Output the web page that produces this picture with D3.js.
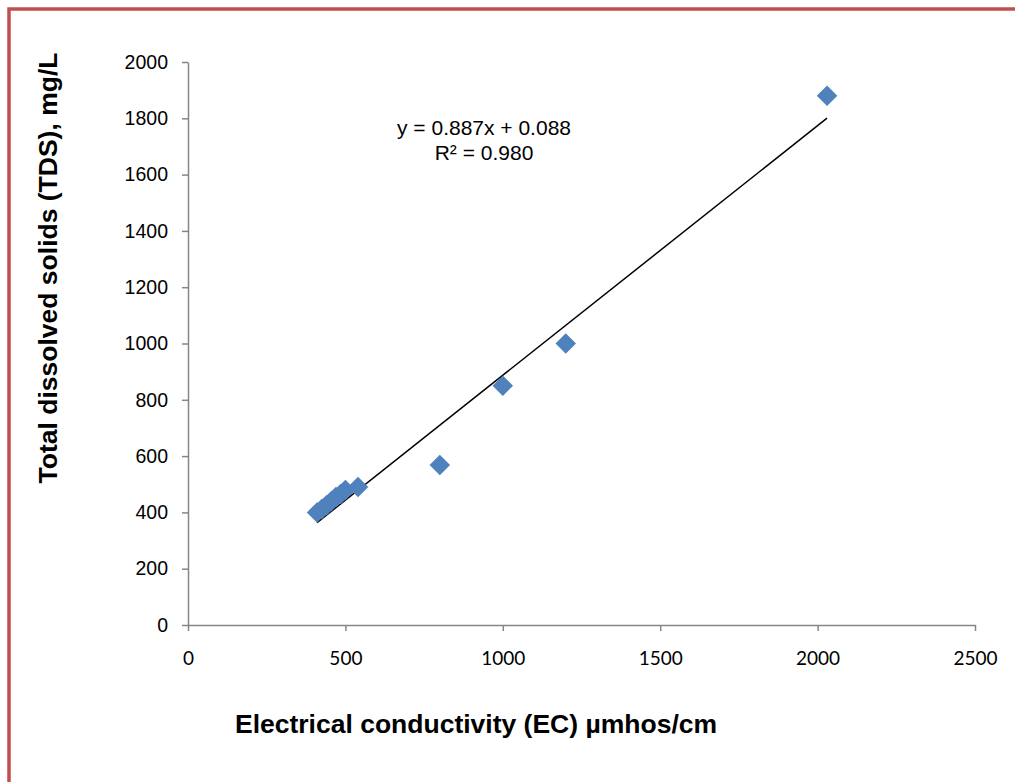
<!DOCTYPE html>
<html>
<head>
<meta charset="utf-8">
<script src="https://cdn.jsdelivr.net/npm/d3@7"></script>
<style>
  body { margin: 0; background: #fff; }
</style>
</head>
<body>
<script>
// EC (µmhos/cm) vs TDS (mg/L)
const ecValues = [410, 425, 440, 455, 470, 485, 500, 540, 800, 1000, 1200, 2030];
const tdsValues = [400, 412, 425, 440, 455, 465, 480, 490, 568, 850, 1000, 1880];
const xTicks = [0, 500, 1000, 1500, 2000, 2500];
const yTicks = [0, 200, 400, 600, 800, 1000, 1200, 1400, 1600, 1800, 2000];
const slope = 0.887;
const intercept = 0.088;
const equationLines = ["y = 0.887x + 0.088", "R² = 0.980"];

const width = 1015, height = 782;

const svg = d3.select("body").append("svg")
    .attr("width", width)
    .attr("height", height);

// red frame
svg.append("rect")
    .attr("x", 9).attr("y", 9)
    .attr("width", width + 20).attr("height", height + 20)
    .attr("fill", "none")
    .attr("stroke", "#C0504D")
    .attr("stroke-width", 3.5);

const x = d3.scaleLinear().domain([0, 2500]).range([188, 975]);
const y = d3.scaleLinear().domain([0, 2000]).range([625, 62]);

const xAxis = svg.append("g")
    .attr("transform", `translate(0,${y(0)})`)
    .call(d3.axisBottom(x).tickValues(xTicks).tickFormat(d3.format("d"))
        .tickSize(6).tickPadding(21).tickSizeOuter(0));
xAxis.selectAll("text")
    .attr("font-family", "Lato, 'Open Sans', sans-serif")
    .attr("font-size", 19)
    .attr("fill", "#000");

const yAxis = svg.append("g")
    .attr("transform", `translate(${x(0)},0)`)
    .call(d3.axisLeft(y).tickValues(yTicks).tickFormat(d3.format("d"))
        .tickSize(6).tickPadding(14).tickSizeOuter(0));
yAxis.selectAll("text")
    .attr("font-family", "'Liberation Sans', Arial, sans-serif")
    .attr("font-size", 19.5)
    .attr("fill", "#000");

svg.selectAll(".domain, .tick line")
    .attr("stroke", "#868686")
    .attr("stroke-width", 1.5);

// trendline
const xMin = d3.min(ecValues), xMax = d3.max(ecValues);
svg.append("line")
    .attr("x1", x(xMin)).attr("y1", y(slope * xMin + intercept))
    .attr("x2", x(xMax)).attr("y2", y(slope * xMax + intercept))
    .attr("stroke", "#000")
    .attr("stroke-width", 1.5);

// diamond markers
const diamond = d3.symbol().type(d3.symbolSquare).size(210);
svg.append("g")
    .selectAll("path")
    .data(ecValues.map((v, i) => [v, tdsValues[i]]))
    .join("path")
    .attr("d", diamond)
    .attr("transform", d => `translate(${x(d[0])},${y(d[1])}) rotate(45)`)
    .attr("fill", "#4F81BD");

// regression equation
svg.append("g")
    .selectAll("text")
    .data(equationLines)
    .join("text")
    .attr("x", 484)
    .attr("y", (d, i) => 135 + i * 25)
    .attr("text-anchor", "middle")
    .attr("font-family", "'Liberation Sans', Arial, sans-serif")
    .attr("font-size", 21)
    .text(d => d);

// axis titles
svg.append("text")
    .attr("x", 476).attr("y", 733)
    .attr("text-anchor", "middle")
    .attr("font-family", "'Liberation Sans', Arial, sans-serif")
    .attr("font-weight", "bold")
    .attr("font-size", 26.5)
    .text("Electrical conductivity (EC) µmhos/cm");

svg.append("text")
    .attr("transform", "translate(57,268) rotate(-90)")
    .attr("text-anchor", "middle")
    .attr("font-family", "'Liberation Sans', Arial, sans-serif")
    .attr("font-weight", "bold")
    .attr("font-size", 26.5)
    .text("Total dissolved solids (TDS), mg/L");
</script>
</body>
</html>
